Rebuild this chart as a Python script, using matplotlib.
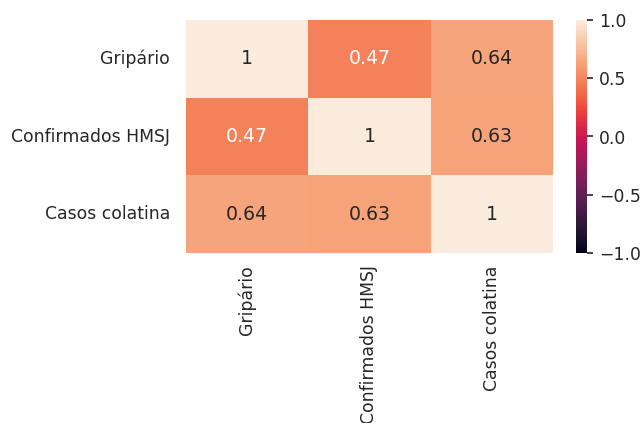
import matplotlib
matplotlib.use("Agg")
import matplotlib.pyplot as plt
import seaborn as sns
import pandas as pd

sns.set_theme(font_scale=1.13)

labels = ["Gripário", "Confirmados HMSJ", "Casos colatina"]
row_gripario = [1.0, 0.47, 0.64]
row_hmsj = [0.47, 1.0, 0.63]
row_colatina = [0.64, 0.63, 1.0]

corr = pd.DataFrame([row_gripario, row_hmsj, row_colatina], index=labels, columns=labels)

fig = plt.figure(figsize=(6.44, 4.23), dpi=100)
W, H = 644, 423
ax = fig.add_axes([186 / W, 1 - 253 / H, 367 / W, 233 / H])
cax = fig.add_axes([576 / W, 1 - 253 / H, 11 / W, 233 / H])

sns.heatmap(corr, vmin=-1, vmax=1, annot=True, ax=ax, cbar_ax=cax)
ax.set_yticklabels(labels, rotation=0)
ax.set_xticklabels(labels, rotation=90)
ax.tick_params(axis="y", length=0, pad=11.5)
ax.tick_params(axis="x", length=0, pad=9)
cax.tick_params(length=4, width=1.2, color="#262626", pad=4.5)

fig.savefig("out.png", dpi=100)
